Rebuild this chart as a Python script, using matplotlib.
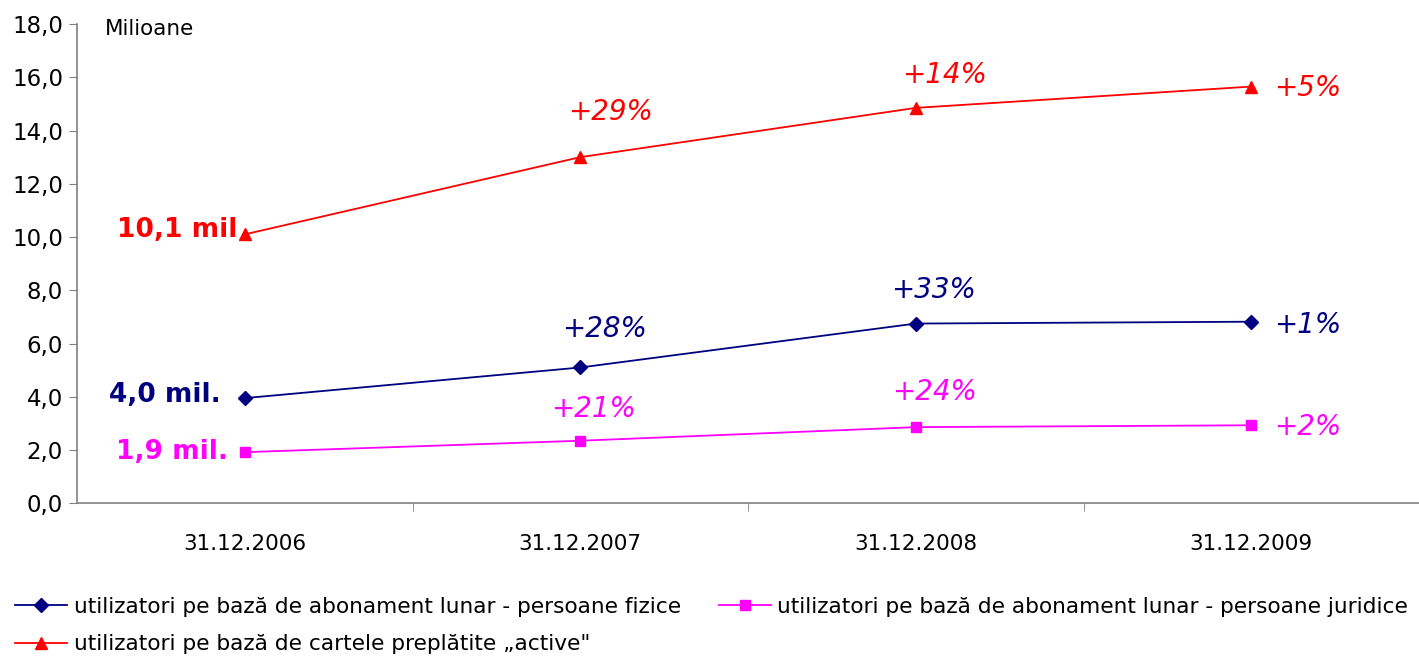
import matplotlib.pyplot as plt
from matplotlib.ticker import FixedLocator, FuncFormatter

# valori (milioane)
dates = ['31.12.2006', '31.12.2007', '31.12.2008', '31.12.2009']
fizice = [3.95, 5.1, 6.75, 6.82]
juridice = [1.92, 2.35, 2.86, 2.93]
cartele = [10.1, 13.0, 14.85, 15.65]

pct_fizice = ['+28%', '+33%', '+1%']
pct_juridice = ['+21%', '+24%', '+2%']
pct_cartele = ['+29%', '+14%', '+5%']

start_fizice = '4,0 mil.'
start_juridice = '1,9 mil.'
start_cartele = '10,1 mil'

lbl_fizice = 'utilizatori pe bază de abonament lunar - persoane fizice'
lbl_juridice = 'utilizatori pe bază de abonament lunar - persoane juridice'
lbl_cartele = 'utilizatori pe bază de cartele preplătite \u201eactive"'

NAVY = '#000080'
MAG = '#FF00FF'
RED = '#FF0000'

plt.rcParams['font.family'] = ['DejaVu Sans']

fig = plt.figure(figsize=(14.19, 6.57), dpi=100)
ax = fig.add_axes([77/1419, 1-503.3/657, 1342/1419, (503.3-24)/657])

x = range(len(dates))
l1, = ax.plot(x, fizice, color=NAVY, lw=1.3, marker='D', ms=7, label=lbl_fizice)
l2, = ax.plot(x, juridice, color=MAG, lw=1.3, marker='s', ms=7.5, label=lbl_juridice)
l3, = ax.plot(x, cartele, color=RED, lw=1.3, marker='^', ms=9, label=lbl_cartele)

ax.set_xlim(-0.5, 3.5)
ax.set_ylim(0, 18)
ax.set_yticks(range(0, 19, 2))
ax.yaxis.set_major_formatter(FuncFormatter(lambda v, p: f'{v:.1f}'.replace('.', ',')))
ax.set_xticks(list(x))
ax.set_xticklabels(dates)
ax.xaxis.set_minor_locator(FixedLocator([0.5, 1.5, 2.5]))
ax.tick_params(axis='x', which='major', length=0, pad=22, labelsize=15.5)
ax.tick_params(axis='x', which='minor', length=6, color='#808080')
ax.tick_params(axis='y', length=6, color='#808080', labelsize=16.5, pad=4)
for s in ['top', 'right']:
    ax.spines[s].set_visible(False)
for s in ['left', 'bottom']:
    ax.spines[s].set_color('#808080')
    ax.spines[s].set_linewidth(1.2)

ax.text(28/1342, 0.99, 'Milioane', transform=ax.transAxes, fontsize=15.5, va='center')

# etichete de start
ax.annotate(start_cartele, (0, cartele[0]), xytext=(-7, 4), textcoords='offset pixels',
            ha='right', va='center', color=RED, fontsize=19, fontweight='bold')
ax.annotate(start_fizice, (0, fizice[0]), xytext=(-24, 3), textcoords='offset pixels',
            ha='right', va='center', color=NAVY, fontsize=19, fontweight='bold')
ax.annotate(start_juridice, (0, juridice[0]), xytext=(-17, 0), textcoords='offset pixels',
            ha='right', va='center', color=MAG, fontsize=19, fontweight='bold')

# cresteri procentuale
off_cartele = [(30, 45), (29, 33), (56, -1)]
off_fizice = [(24, 38), (18, 34), (56, -3)]
off_juridice = [(13, 32), (19, 35), (56, -2)]
for vals, pcts, offs, c in [(cartele, pct_cartele, off_cartele, RED),
                            (fizice, pct_fizice, off_fizice, NAVY),
                            (juridice, pct_juridice, off_juridice, MAG)]:
    for i, (p, o) in enumerate(zip(pcts, offs)):
        ax.annotate(p, (i + 1, vals[i + 1]), xytext=o, textcoords='offset pixels',
                    ha='center', va='center', color=c, fontsize=20, fontstyle='italic')

fig.legend(handles=[l1, l3, l2], loc='upper left', bbox_to_anchor=(15/1419, 1-597/657),
           ncol=2, frameon=False, fontsize=15.6, handlelength=2.4, handletextpad=0.3,
           columnspacing=1.75, labelspacing=0.8, borderpad=0, borderaxespad=0)

plt.savefig('out.png', dpi=100)
